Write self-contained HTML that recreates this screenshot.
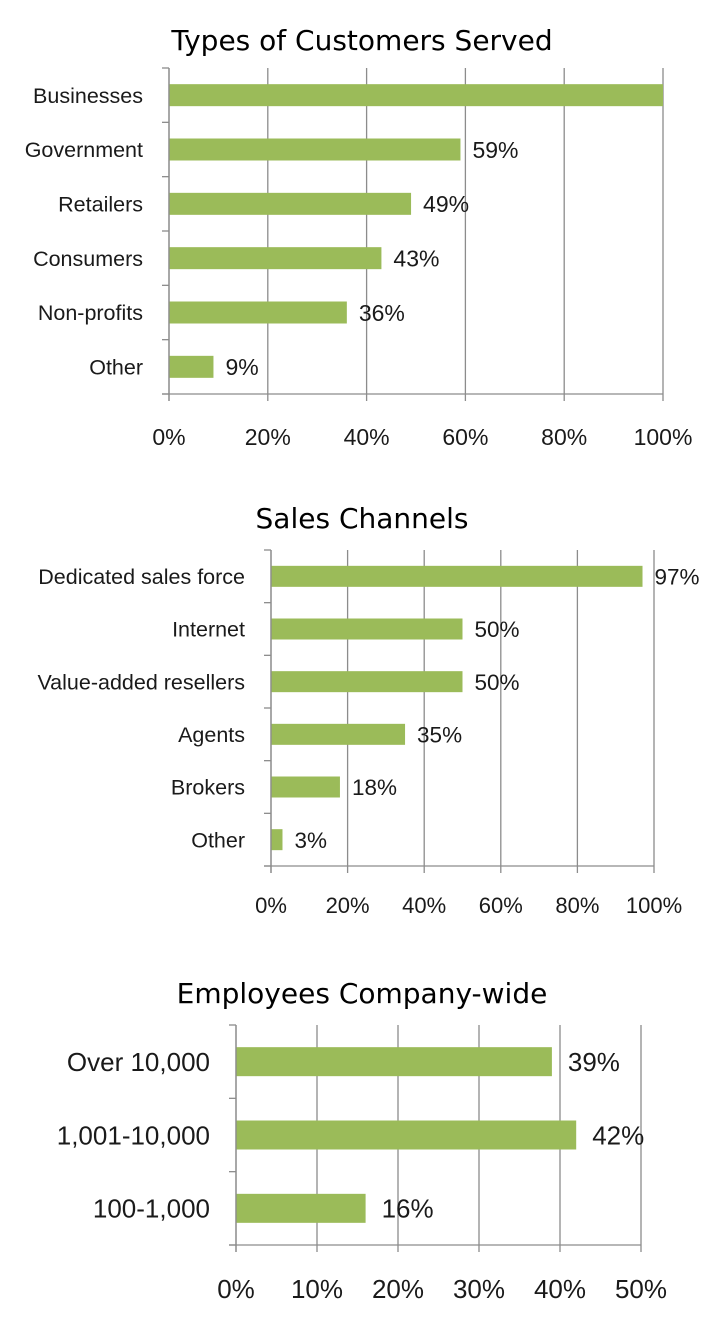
<!DOCTYPE html>
<html><head><meta charset="utf-8"><style>
html,body{margin:0;padding:0;background:#fff;width:728px;height:1342px;overflow:hidden}
svg{display:block}
.title{font-family:"DejaVu Sans","Liberation Sans",sans-serif;font-size:28px;fill:#000}
.cat{font-family:"Liberation Sans Narrow","Liberation Sans",sans-serif;fill:#1a1a1a}
.val{font-family:"Liberation Sans Narrow","Liberation Sans",sans-serif;fill:#1a1a1a}
</style></head><body>
<svg id="svg" width="728" height="1342" xmlns="http://www.w3.org/2000/svg"></svg>
<script>
const c1Categories=["Businesses","Government","Retailers","Consumers","Non-profits","Other"];
const c1Values=[100,59,49,43,36,9];
const c1ValueLabels=["","59%","49%","43%","36%","9%"];
const c1Ticks=[0,20,40,60,80,100];
const c2Categories=["Dedicated sales force","Internet","Value-added resellers","Agents","Brokers","Other"];
const c2Values=[97,50,50,35,18,3];
const c2ValueLabels=["97%","50%","50%","35%","18%","3%"];
const c2Ticks=[0,20,40,60,80,100];
const c3Categories=["Over 10,000","1,001-10,000","100-1,000"];
const c3Values=[39,42,16];
const c3ValueLabels=["39%","42%","16%"];
const c3Ticks=[0,10,20,30,40,50];

const NS="http://www.w3.org/2000/svg";
const svg=document.getElementById('svg');
function mk(tag,attrs,parent){const e=document.createElementNS(NS,tag);for(const k in attrs)e.setAttribute(k,attrs[k]);(parent||svg).appendChild(e);return e;}

function chart(cfg){
  const g=mk('g',{});
  
  
  const max=cfg.ticks[cfg.ticks.length-1];
  const xs=v=>cfg.x0+(v/max)*(cfg.x1-cfg.x0);
  const n=cfg.cats.length;
  const band=(cfg.y1-cfg.y0)/n;
  const ys=i=>cfg.y0+band*(i+0.5);
  const t=mk('text',{x:cfg.tx,y:cfg.ty,'text-anchor':'middle',class:'title'},g);
  t.textContent=cfg.title;
  
  
  cfg.ticks.forEach(tv=>{
    const x=xs(tv);
    const l=mk('line',{x1:x,y1:cfg.y0,x2:x,y2:cfg.y1+7,stroke:'#8c8c8c','stroke-width':1.3},g);
    
    
    const tl=mk('text',{x:x,y:cfg.tickY,'text-anchor':'middle',class:'val','font-size':cfg.tickSize},g);
    tl.textContent=tv+'%';
    
    
  });
  const ax=mk('line',{x1:cfg.x0-7,y1:cfg.y1,x2:cfg.x1,y2:cfg.y1,stroke:'#8c8c8c','stroke-width':1.3},g);
  
  
  for(let i=0;i<=n;i++){
    const tk=mk('line',{x1:cfg.x0-7,y1:cfg.y0+band*i,x2:cfg.x0,y2:cfg.y0+band*i,stroke:'#8c8c8c','stroke-width':1.3},g);
    
    
  }
  cfg.cats.forEach((c,i)=>{
    const y=ys(i);
    const b=mk('rect',{x:cfg.x0,y:y-cfg.bh/2,width:xs(cfg.vals[i])-cfg.x0,height:cfg.bh,fill:'#9bbb59'},g);
    
    
    const cl=mk('text',{x:cfg.x0-26,y:y+cfg.catSize*0.36,'text-anchor':'end',class:'cat','font-size':cfg.catSize},g);
    cl.textContent=c;
    
    
    if(cfg.vlabels[i]){
      const vl=mk('text',{x:xs(cfg.vals[i])+cfg.vgap,y:y+cfg.valSize*0.36,class:'val','font-size':cfg.valSize},g);
      vl.textContent=cfg.vlabels[i];
      
      
    }
  });
  const yl=mk('line',{x1:cfg.x0,y1:cfg.y0,x2:cfg.x0,y2:cfg.y1+7,stroke:'#8c8c8c','stroke-width':1.3},g);
  
  
}
chart({name:'customers-chart',title:'Types of Customers Served',tx:362,ty:50,cats:c1Categories,vals:c1Values,vlabels:c1ValueLabels,ticks:c1Ticks,
  x0:169,x1:663,y0:68,y1:394,bh:22,catSize:21.5,valSize:23,tickSize:23,tickY:445,vgap:12});
chart({name:'sales-channels-chart',title:'Sales Channels',tx:362,ty:528,cats:c2Categories,vals:c2Values,vlabels:c2ValueLabels,ticks:c2Ticks,
  x0:271,x1:654,y0:550,y1:866,bh:21,catSize:21.5,valSize:22.5,tickSize:22,tickY:913,vgap:12});
chart({name:'employees-chart',title:'Employees Company-wide',tx:362,ty:1003,cats:c3Categories,vals:c3Values,vlabels:c3ValueLabels,ticks:c3Ticks,
  x0:236,x1:641,y0:1025,y1:1245,bh:29,catSize:26,valSize:26,tickSize:26,tickY:1298,vgap:16});
</script>
</body></html>
